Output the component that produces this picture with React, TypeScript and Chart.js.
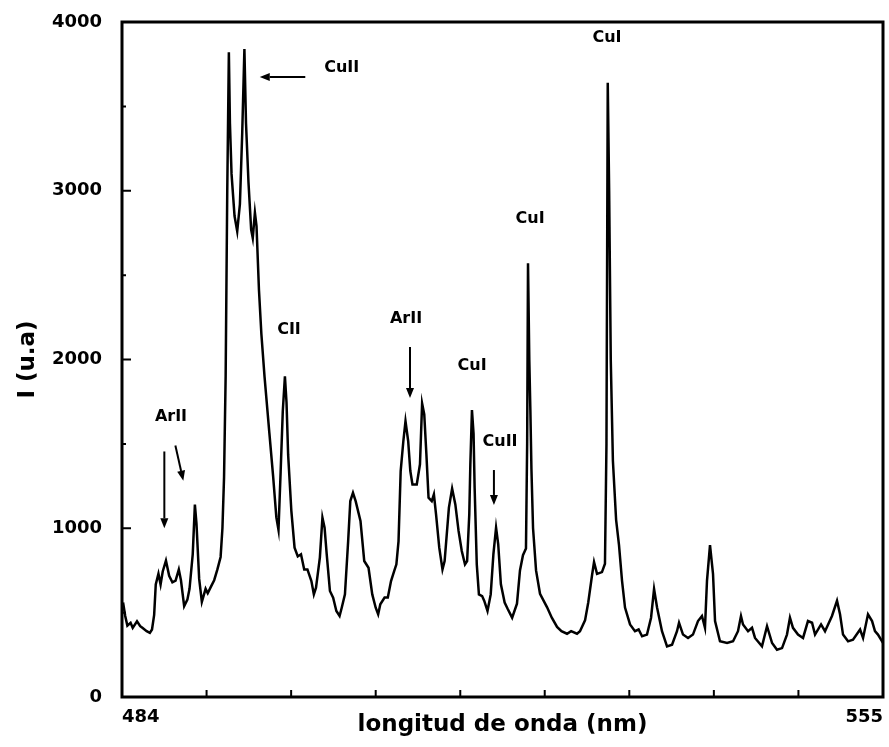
import React, { useEffect, useRef } from "react";
import { Chart, registerables } from "chart.js";

Chart.register(...registerables);

// Spectrum: wavelength (nm) and intensity (u.a.)
const wavelength = [
  484.1, 484.3, 484.5, 484.8, 485.0, 485.4, 485.7, 485.9, 486.3, 486.6, 486.8, 487.0, 487.15, 487.4, 487.6, 487.8,
  488.1, 488.4, 488.7, 489.0, 489.3, 489.5, 489.8, 490.1, 490.3, 490.6, 490.8, 490.95, 491.2, 491.45, 491.8, 492.0,
  492.3, 492.6, 492.9, 493.2, 493.37, 493.52, 493.67, 493.82, 493.97, 494.07, 494.22, 494.5, 494.75, 495.0, 495.22, 495.42,
  495.57, 495.8, 496.05, 496.2, 496.4, 496.55, 496.78, 497.0, 497.3, 497.75, 498.1, 498.4, 498.6, 498.8, 499.0, 499.2,
  499.35, 499.5, 499.8, 500.1, 500.4, 500.7, 501.0, 501.3, 501.67, 501.9, 502.1, 502.46, 502.7, 502.9, 503.1, 503.4,
  503.7, 504.0, 504.3, 504.5, 504.8, 505.1, 505.3, 505.55, 505.8, 506.25, 506.6, 507.0, 507.35, 507.67, 507.9, 508.1,
  508.5, 508.8, 509.1, 509.4, 509.6, 509.8, 510.0, 510.25, 510.45, 510.7, 510.9, 511.1, 511.5, 511.8, 512.0, 512.2,
  512.4, 512.6, 512.9, 513.1, 513.3, 513.6, 513.9, 514.1, 514.5, 514.8, 515.1, 515.4, 515.7, 516.0, 516.2, 516.4,
  516.5, 516.65, 516.8, 516.9, 517.1, 517.3, 517.6, 517.8, 518.1, 518.4, 518.65, 518.9, 519.1, 519.35, 519.7, 520.0,
  520.4, 520.85, 521.13, 521.41, 521.69, 521.8, 521.88, 522.0, 522.1, 522.2, 522.35, 522.63, 523.0, 523.65, 524.1, 524.59,
  525.0, 525.52, 525.9, 526.45, 526.73, 527.2, 527.5, 527.85, 528.04, 528.32, 528.78, 529.06, 529.2, 529.32, 529.45, 529.6,
  529.8, 530.1, 530.37, 530.65, 530.93, 531.4, 531.86, 532.2, 532.52, 532.98, 533.36, 533.64, 533.92, 534.38, 534.85, 535.32,
  535.78, 535.97, 536.34, 536.81, 537.27, 537.74, 538.11, 538.39, 538.58, 538.86, 539.14, 539.33, 539.79, 540.45, 541.01, 541.47,
  541.75, 541.94, 542.41, 542.78, 543.06, 543.71, 544.18, 544.65, 545.11, 545.58, 546.04, 546.32, 546.6, 547.07, 547.54, 548.0,
  548.38, 548.66, 549.22, 549.59, 550.24, 550.71, 550.99, 551.27, 551.74, 552.2, 552.86, 553.14, 553.6, 553.98, 554.25, 554.53,
  554.91, 555.0,
];
const intensity = [
  560, 480, 423, 440, 410, 449, 420, 410, 390, 380, 400, 487, 667, 731, 667, 744,
  808, 718, 680, 690, 756, 692, 538, 577, 641, 846, 1140, 1026, 700, 564, 641, 615,
  654, 692, 756, 830, 1000, 1300, 1900, 3000, 3820, 3400, 3100, 2850, 2760, 2920, 3350, 3840,
  3400, 3050, 2770, 2720, 2870, 2790, 2410, 2154, 1897, 1564, 1308, 1064, 990, 1333, 1692, 1900,
  1744, 1436, 1103, 885, 833, 846, 756, 756, 687, 608, 648, 826, 1063, 1003, 845, 628,
  589, 510, 480, 529, 608, 924, 1161, 1210, 1161, 1043, 806, 766, 608, 529, 490, 549,
  589, 589, 687, 747, 786, 924, 1339, 1517, 1635, 1517, 1339, 1260, 1260, 1379, 1740, 1675,
  1438, 1181, 1161, 1201, 1082, 885, 756, 806, 1122, 1235, 1141, 984, 865, 786, 806, 1082,
  1379, 1700, 1560, 1240, 786, 608, 598, 569, 510, 608, 845, 1003, 905, 668, 560, 520,
  470, 553, 750, 840, 880, 1500, 2570, 2000, 1700, 1350, 1000, 750, 612, 533, 470, 415,
  390, 375, 390, 375, 390, 454, 560, 720, 800, 730, 740, 790, 1500, 3640, 3000, 2000,
  1400, 1050, 900, 690, 530, 430, 390, 400, 360, 370, 470, 640, 530, 390, 300, 310,
  390, 440, 370, 350, 370, 450, 480, 410, 690, 900, 730, 450, 330, 320, 330, 390,
  480, 430, 390, 410, 350, 300, 420, 320, 280, 290, 370, 470, 410, 370, 350, 450,
  440, 370, 430, 390, 480, 570, 490, 370, 330, 340, 400, 350, 490, 450, 390, 370,
  330, 340,
];

// Axes
const xTickValues = [484, 491.89, 499.78, 507.67, 515.56, 523.44, 531.33, 539.22, 547.11, 555];
const xTickLabels = ["484", "", "", "", "", "", "", "", "", "555"];
const yTickValues = [0, 1000, 2000, 3000, 4000];
const yMinorTicks = [500, 1500, 2500, 3500];

// Annotations (text labels, in data units)
const labelTexts = ["CuII", "CuI", "CuI", "CII", "ArII", "CuI", "CuII", "ArII"];
const labelX = [504.5, 529.25, 522.07, 499.58, 510.5, 516.66, 519.27, 488.57];
const labelY = [3727, 3905, 2833, 2175, 2240, 1962, 1511, 1660];

// Arrows (from -> to, data units)
const arrowFromX = [501.1, 510.87, 518.7, 487.95, 488.98];
const arrowFromY = [3674, 2074, 1345, 1455, 1490];
const arrowToX = [496.85, 510.87, 518.7, 487.95, 489.72];
const arrowToY = [3674, 1772, 1138, 1000, 1282];

const FONT = "'DejaVu Sans', 'Liberation Sans', Arial, sans-serif";

const framePlugin = {
  id: "frameAndNotes",
  afterDraw(chart: any) {
    const { ctx, chartArea: a, scales } = chart;
    const xs = scales.x;
    const ys = scales.y;
    ctx.save();
    ctx.strokeStyle = "#000";
    ctx.fillStyle = "#000";
    ctx.lineCap = "butt";
    // frame
    ctx.lineWidth = 3;
    ctx.strokeRect(a.left, a.top, a.right - a.left, a.bottom - a.top);
    // tick marks (inside)
    ctx.lineWidth = 2;
    ctx.beginPath();
    yTickValues.slice(1, -1).forEach((v) => {
      const py = ys.getPixelForValue(v);
      ctx.moveTo(a.left, py);
      ctx.lineTo(a.left + 9, py);
    });
    yMinorTicks.forEach((v) => {
      const py = ys.getPixelForValue(v);
      ctx.moveTo(a.left, py);
      ctx.lineTo(a.left + 4, py);
    });
    xTickValues.slice(1, -1).forEach((v) => {
      const px = xs.getPixelForValue(v);
      ctx.moveTo(px, a.bottom);
      ctx.lineTo(px, a.bottom - 7);
    });
    ctx.stroke();

    // labels
    ctx.font = `bold 16px ${FONT}`;
    ctx.textAlign = "center";
    ctx.textBaseline = "middle";
    labelTexts.forEach((t, i) => {
      ctx.fillText(t, xs.getPixelForValue(labelX[i]), ys.getPixelForValue(labelY[i]));
    });

    // arrows
    ctx.lineWidth = 2;
    arrowFromX.forEach((fx, i) => {
      const x1 = xs.getPixelForValue(fx);
      const y1 = ys.getPixelForValue(arrowFromY[i]);
      const x2 = xs.getPixelForValue(arrowToX[i]);
      const y2 = ys.getPixelForValue(arrowToY[i]);
      const ang = Math.atan2(y2 - y1, x2 - x1);
      const hl = 10;
      const hw = 4;
      const bx = x2 - hl * Math.cos(ang);
      const by = y2 - hl * Math.sin(ang);
      ctx.beginPath();
      ctx.moveTo(x1, y1);
      ctx.lineTo(bx, by);
      ctx.stroke();
      ctx.beginPath();
      ctx.moveTo(x2, y2);
      ctx.lineTo(bx + hw * Math.sin(ang), by - hw * Math.cos(ang));
      ctx.lineTo(bx - hw * Math.sin(ang), by + hw * Math.cos(ang));
      ctx.closePath();
      ctx.fill();
    });
    ctx.restore();
  },
};

export default function App() {
  const canvasRef = useRef<HTMLCanvasElement | null>(null);

  useEffect(() => {
    const canvas = canvasRef.current;
    if (!canvas) return;
    const points = wavelength.map((w, i) => ({ x: w, y: intensity[i] }));
    const tickFont = { family: FONT, size: 18, weight: "bold" as const };
    const chart = new Chart(canvas, {
      type: "line",
      data: {
        datasets: [
          {
            data: points,
            borderColor: "#000",
            borderWidth: 2.5,
            pointRadius: 0,
            tension: 0,
            fill: false,
          },
        ],
      },
      plugins: [framePlugin],
      options: {
        responsive: false,
        animation: false,
        layout: { padding: { left: 0, top: 22, right: 6, bottom: 0 } },
        plugins: { legend: { display: false }, tooltip: { enabled: false } },
        scales: {
          x: {
            type: "linear",
            min: 484,
            max: 555,
            afterBuildTicks: (s: any) => {
              s.ticks = xTickValues.map((v) => ({ value: v }));
            },
            afterFit: (s: any) => {
              s.height = 50;
              s.paddingLeft = 0;
              s.paddingRight = 0;
            },
            grid: { display: false, drawTicks: false },
            border: { display: false },
            ticks: {
              align: "inner",
              padding: 10,
              autoSkip: false,
              maxRotation: 0,
              color: "#000",
              font: tickFont,
              callback: (_v: any, i: number) => xTickLabels[i],
            },
            title: {
              display: true,
              text: "longitud de onda (nm)",
              color: "#000",
              font: { family: FONT, size: 23, weight: "bold" },
              padding: { top: 0, bottom: 8 },
            },
          },
          y: {
            type: "linear",
            min: 0,
            max: 4000,
            afterBuildTicks: (s: any) => {
              s.ticks = yTickValues.map((v) => ({ value: v }));
            },
            afterFit: (s: any) => {
              s.width = 122;
              s.paddingTop = 0;
              s.paddingBottom = 0;
            },
            grid: { display: false, drawTicks: false },
            border: { display: false },
            ticks: {
              padding: 20,
              color: "#000",
              font: tickFont,
              callback: (v: any) => String(v),
            },
            title: {
              display: true,
              text: "I (u.a)",
              color: "#000",
              font: { family: FONT, size: 23, weight: "bold" },
              padding: { top: 14, bottom: 0 },
            },
          },
        },
      } as any,
    });
    return () => chart.destroy();
  }, []);

  return (
    <div style={{ position: "fixed", left: 0, top: 0, width: 889, height: 747, background: "#fff" }}>
      <canvas ref={canvasRef} width={889} height={747} style={{ display: "block" }} />
    </div>
  );
}
